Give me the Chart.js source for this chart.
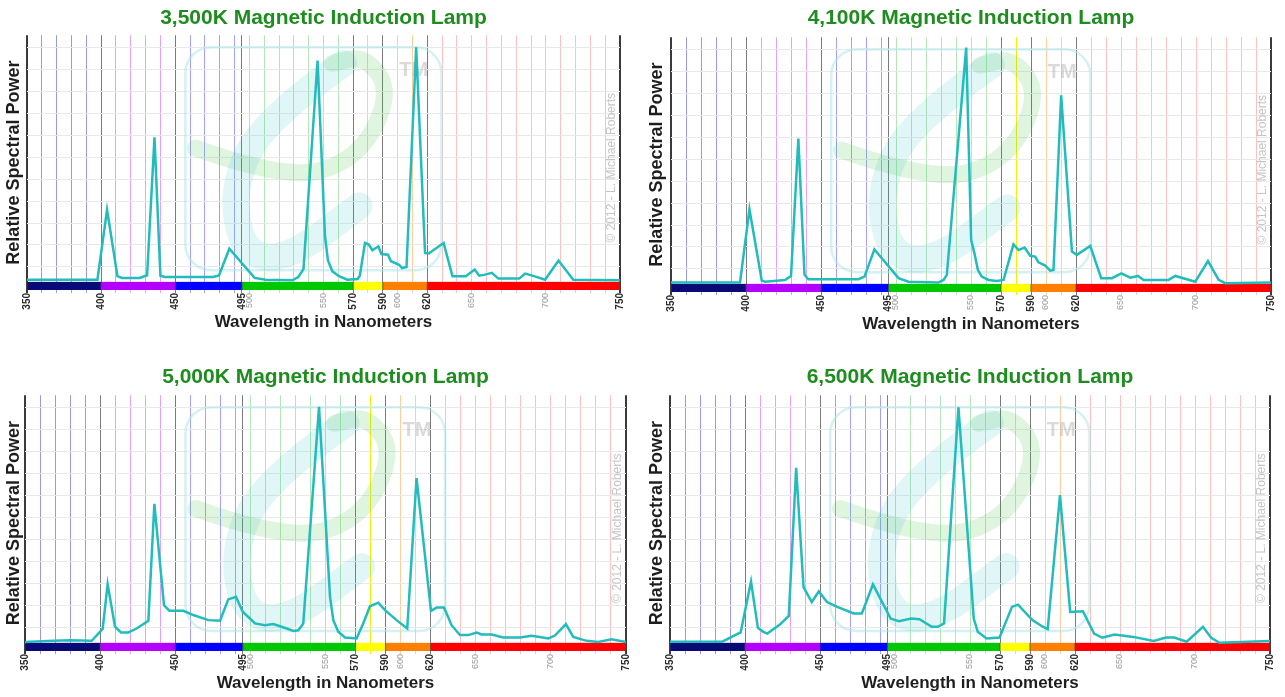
<!DOCTYPE html>
<html>
<head>
<meta charset="utf-8">
<title>Magnetic Induction Lamp spectra</title>
<script src="https://cdn.jsdelivr.net/npm/chart.js@4.4.1/dist/chart.umd.min.js"></script>
<style>
  html, body { margin: 0; padding: 0; background: #fff; }
  body { width: 1285px; height: 697px; position: relative; overflow: hidden; }
  canvas { position: absolute; }
</style>
</head>
<body>
<canvas id="c3500" width="632" height="335" style="left:0;top:0"></canvas>
<canvas id="c4100" width="645" height="337" style="left:640px;top:0"></canvas>
<canvas id="c5000" width="640" height="338" style="left:0;top:358px"></canvas>
<canvas id="c6500" width="645" height="338" style="left:640px;top:358px"></canvas>
<script>
// wavelength (nm) / relative power
const wl3500 = [350, 397.5, 404, 411, 414, 426, 431, 436, 440, 443, 475.5, 479.5, 486.5, 503.5, 511, 529, 533, 536.5, 546, 551, 553, 556, 560.5, 566, 573, 574.5, 578, 580.5, 583, 587, 589, 593.5, 595.5, 601, 603, 606, 612.5, 618.5, 621, 631, 637, 646, 652, 655, 659, 663.5, 668, 682, 686, 692, 699.5, 708.5, 718.5, 750];
const spd3500 = [4.2, 4.2, 36, 5.8, 5, 5, 6.2, 69, 6, 5.4, 5.4, 6.1, 18.3, 5, 4.2, 3.9, 5.4, 9, 104, 24, 13, 8, 5.8, 4.2, 4.5, 6, 21, 20.2, 17.6, 19.4, 15.9, 15.6, 12.6, 11, 9.5, 10, 110, 16.4, 16.1, 20.9, 5.8, 5.8, 8.8, 6, 6.5, 7.3, 4.7, 4.7, 7, 5.8, 4.2, 12.9, 4.2, 3.9];

const wl4100 = [350, 396, 402.3, 410.5, 412.7, 426, 430, 434.9, 439, 441.6, 475, 479, 485.6, 501.7, 508.3, 528.3, 531.7, 533.9, 546.8, 550.1, 552.3, 554.6, 557.2, 561.7, 567.2, 571.7, 578.3, 581.7, 585.7, 589.5, 592.8, 595, 599.5, 602.8, 605, 610.1, 617.3, 620.6, 629.5, 636.8, 644, 650.2, 656.2, 661.3, 665.1, 681.7, 686.2, 699.5, 708, 715.1, 719.5, 750];
const spd4100 = [3.8, 3.8, 37.1, 4.7, 4.2, 5, 6.8, 69.4, 7.3, 5.3, 5.3, 6.5, 18.9, 5.8, 4.2, 3.8, 5, 7.3, 110.8, 23.2, 17.1, 9.5, 6.5, 5, 4.5, 5, 21.2, 18.6, 19.7, 16, 15.6, 13, 11.5, 9.2, 9.5, 89, 17.9, 16.4, 20.5, 5.8, 5.8, 8, 6, 6.8, 5, 5, 6.8, 4.2, 13.6, 5, 3.5, 3.8];

const wl5000 = [350, 369, 380, 394.4, 401.7, 405, 409.9, 413.9, 418.8, 424.3, 432.1, 436.1, 442.5, 446.1, 455.4, 462, 472, 479.8, 485.3, 490.4, 494.9, 503.1, 509.7, 515.3, 524.2, 528.6, 531.9, 535.2, 545.7, 553, 555.2, 558.5, 563, 570.7, 575.1, 579.6, 585.1, 589.6, 597.3, 604.4, 610.6, 620.2, 624, 628.8, 630.6, 633.9, 639.5, 645, 650.6, 653.9, 660.6, 668.3, 679.4, 687.2, 691.6, 698.3, 702.7, 710, 714.9, 723.8, 731.5, 740.4, 750];
const spd5000 = [3.6, 4.1, 4.4, 4.1, 9.5, 29.8, 10.5, 7.9, 7.9, 9.7, 13.2, 66.2, 20.3, 17.7, 17.7, 15.8, 13.5, 13.2, 22.9, 24.1, 17.3, 12, 11.2, 11.7, 9.7, 8.6, 8.9, 12, 110.2, 24, 13.5, 8.2, 5.6, 5.2, 12, 19.8, 21.4, 18, 13.5, 9.7, 77.9, 17.7, 19.2, 19.2, 16.5, 11.2, 6.7, 6.7, 7.9, 7, 7, 5.6, 5.6, 6.4, 6, 5.2, 6.5, 11.7, 5.9, 4.1, 3.6, 4.8, 3.6];

const wl6500 = [350, 384.8, 397.1, 404, 408.6, 412.2, 414.9, 423.2, 429.2, 434.1, 439, 444.5, 449.2, 454.7, 461.5, 472.5, 477.9, 485.3, 497.1, 502.6, 510.8, 516.3, 524.5, 528.6, 532.7, 542.3, 552.5, 555.2, 561, 569.7, 578, 582, 591.6, 598.5, 601.8, 610, 616.8, 625.3, 632.7, 638.2, 646.4, 658.8, 672.5, 680.7, 686.2, 694.4, 705.3, 710.8, 716.3, 750];
const spd6500 = [3.7, 3.7, 7.9, 31, 10, 8.2, 7.4, 11.5, 15.4, 82.6, 28.5, 21.7, 26.5, 21.7, 19.5, 16.5, 16.5, 29.7, 14.2, 13, 14.2, 13.9, 10.5, 10.5, 12, 110, 14.2, 8.2, 5.2, 5.6, 19.5, 20.5, 13.5, 10.5, 9.4, 70.2, 17.2, 17.5, 7.4, 5.5, 7, 5.9, 4.1, 5.6, 5.6, 3.7, 10.5, 5.5, 3.2, 4];

const titles = ["3,500K Magnetic Induction Lamp", "4,100K Magnetic Induction Lamp", "5,000K Magnetic Induction Lamp", "6,500K Magnetic Induction Lamp"];

// x gridlines every 10 nm plus the 495 colour boundary
const gridNm = [350, 360, 370, 380, 390, 400, 410, 420, 430, 440, 450, 460, 470, 480, 490, 495, 500, 510, 520, 530, 540, 550, 560, 570, 580, 590, 600, 610, 620, 630, 640, 650, 660, 670, 680, 690, 700, 710, 720, 730, 740, 750];
const majorLabels = [350, 400, 450, 495, 570, 590, 620, 750];
const minorLabels = [500, 550, 600, 650, 700];

// visible colour band under the curve
const bandEdges = [350, 400, 450, 495, 570, 590, 620, 750];
const bandColors = ["#0a0a76", "#b400ff", "#0000ff", "#00c800", "#ffff00", "#ff8000", "#ff0000"];
const bandTop = 3.2;

const FONT = '"Liberation Sans", Arial, Helvetica, sans-serif';
Chart.defaults.font.family = FONT;

const tickVal = (c) => (c && c.tick ? c.tick.value : null);

function gridColor(v) {
  if (v === 350 || v === 750) return "#3a3a3a";
  if (majorLabels.includes(v)) return "#7a7a7a";
  if (v === null) return "#cccccc";
  if (v < 400) return "rgba(110,110,225,0.7)";
  if (v < 450) return "rgba(215,110,255,0.65)";
  if (v < 495) return "rgba(110,110,255,0.65)";
  if (v < 570) return "rgba(120,210,120,0.55)";
  if (v < 590) return "#f4f000";
  if (v < 620) return "rgba(255,165,80,0.55)";
  return "rgba(255,130,130,0.5)";
}

function smoothPath(ctx, pts) {
  ctx.beginPath();
  ctx.moveTo(pts[0][0], pts[0][1]);
  for (let i = 1; i < pts.length - 1; i++) {
    const mx = (pts[i][0] + pts[i + 1][0]) / 2;
    const my = (pts[i][1] + pts[i + 1][1]) / 2;
    ctx.quadraticCurveTo(pts[i][0], pts[i][1], mx, my);
  }
  const last = pts[pts.length - 1];
  ctx.lineTo(last[0], last[1]);
  ctx.stroke();
}

const spectrumPlugin = {
  id: "spectrum",
  beforeDatasetsDraw(chart) {
    const { ctx, chartArea: a, scales } = chart;
    const x = scales.x, y = scales.y;
    const w = a.right - a.left, h = a.bottom - a.top;
    const P = (fx, fy) => [a.left + fx * w, a.top + fy * h];

    ctx.save();
    // faint logo watermark
    ctx.lineCap = "round";
    ctx.strokeStyle = "rgba(170,228,232,0.5)";
    ctx.lineWidth = 2.5;
    ctx.beginPath();
    ctx.roundRect(a.left + 0.267 * w, a.top + 0.047 * h, 0.432 * w, 0.875 * h, 26);
    ctx.stroke();

    ctx.strokeStyle = "rgba(60,190,60,0.16)";
    ctx.lineWidth = 17;
    smoothPath(ctx, [P(0.284, 0.443), P(0.435, 0.57), P(0.558, 0.49), P(0.615, 0.227), P(0.571, 0.08), P(0.515, 0.11)]);
    ctx.strokeStyle = "rgba(40,190,200,0.14)";
    ctx.lineWidth = 27;
    smoothPath(ctx, [P(0.534, 0.11), P(0.40, 0.33), P(0.345, 0.6), P(0.365, 0.86), P(0.44, 0.88), P(0.56, 0.67)]);

    ctx.fillStyle = "rgba(150,150,150,0.35)";
    ctx.font = "bold 20px " + FONT;
    ctx.textAlign = "center";
    ctx.textBaseline = "middle";
    ctx.fillText("TM", a.left + 0.652 * w, a.top + 0.137 * h);

    // copyright, rotated
    ctx.save();
    ctx.translate(a.right - 8, a.top + 0.52 * h);
    ctx.rotate(-Math.PI / 2);
    ctx.fillStyle = "#c4c4c4";
    ctx.font = "12px " + FONT;
    ctx.fillText("\u00a9 2012 - L. Michael Roberts", 0, 0);
    ctx.restore();

    // colour band
    const top = y.getPixelForValue(bandTop);
    for (let i = 0; i < bandColors.length; i++) {
      const x0 = x.getPixelForValue(bandEdges[i]);
      const x1 = x.getPixelForValue(bandEdges[i + 1]);
      ctx.fillStyle = bandColors[i];
      ctx.fillRect(x0, top, x1 - x0, a.bottom - top);
    }
    ctx.fillStyle = "rgba(70,70,70,0.8)";
    bandEdges.forEach((e) => {
      ctx.fillRect(x.getPixelForValue(e) - 0.5, top, 1, a.bottom - top);
    });
    ctx.restore();
  },
};

function makeChart(p) {
  const el = document.getElementById(p.id);
  return new Chart(el, {
    type: "line",
    data: {
      datasets: [
        {
          data: p.wl.map((v, i) => ({ x: v, y: p.spd[i] })),
          borderColor: "#22bcbc",
          borderWidth: 2.5,
          pointRadius: 0,
          tension: 0,
          fill: false,
        },
      ],
    },
    options: {
      responsive: false,
      animation: false,
      events: [],
      layout: { padding: { left: 0, right: p.padRight, top: 0, bottom: 0 } },
      plugins: {
        legend: { display: false },
        tooltip: { enabled: false },
        title: {
          display: true,
          text: p.title,
          fullSize: false,
          color: "#1e8c1e",
          font: { family: FONT, size: 21, weight: "bold" },
          padding: p.titlePad,
        },
      },
      scales: {
        x: {
          type: "linear",
          min: 350,
          max: 750,
          afterBuildTicks: (s) => {
            s.ticks = gridNm.map((v) => ({ value: v }));
          },
          afterFit: (s) => {
            s.height = 45;
          },
          border: { display: false },
          grid: {
            color: (c) => gridColor(tickVal(c)),
            lineWidth: (c) => (tickVal(c) === 350 || tickVal(c) === 750 ? 2 : 1),
            drawTicks: true,
            tickLength: 3,
          },
          ticks: {
            autoSkip: false,
            minRotation: 90,
            maxRotation: 90,
            padding: 0,
            callback: (v) => (majorLabels.includes(v) || minorLabels.includes(v) ? String(v) : ""),
            font: (c) =>
              majorLabels.includes(tickVal(c))
                ? { family: FONT, size: 10, weight: "bold" }
                : { family: FONT, size: 9 },
            color: (c) => (majorLabels.includes(tickVal(c)) ? "#2a2a2a" : "#9a9a9a"),
          },
          title: {
            display: true,
            text: "Wavelength in Nanometers",
            color: "#1e1e1e",
            font: { family: FONT, size: 17, weight: "bold" },
            padding: { top: 0, bottom: 2 },
          },
        },
        y: {
          min: -0.5,
          max: 115.5,
          afterFit: (s) => {
            s.width = p.yWidth;
          },
          border: { display: false },
          grid: { color: "#e9e9e9", drawTicks: false },
          ticks: { display: false, stepSize: 10, includeBounds: false },
          title: {
            display: true,
            text: "Relative Spectral Power",
            color: "#1e1e1e",
            font: { family: FONT, size: 18, weight: "bold" },
            padding: { top: p.yTitlePad, bottom: 0 },
          },
        },
      },
    },
    plugins: [spectrumPlugin],
  });
}

const panels = [
  { id: "c3500", title: titles[0], wl: wl3500, spd: spd3500, yWidth: 27, yTitlePad: 3, padRight: 10, titlePad: { top: 6, bottom: 4 } },
  { id: "c4100", title: titles[1], wl: wl4100, spd: spd4100, yWidth: 31, yTitlePad: 6, padRight: 14, titlePad: { top: 6, bottom: 6 } },
  { id: "c5000", title: titles[2], wl: wl5000, spd: spd5000, yWidth: 25, yTitlePad: 3, padRight: 14, titlePad: { top: 7, bottom: 5 } },
  { id: "c6500", title: titles[3], wl: wl6500, spd: spd6500, yWidth: 30, yTitlePad: 6, padRight: 15, titlePad: { top: 7, bottom: 5 } },
];

panels.forEach(makeChart);
</script>
</body>
</html>
